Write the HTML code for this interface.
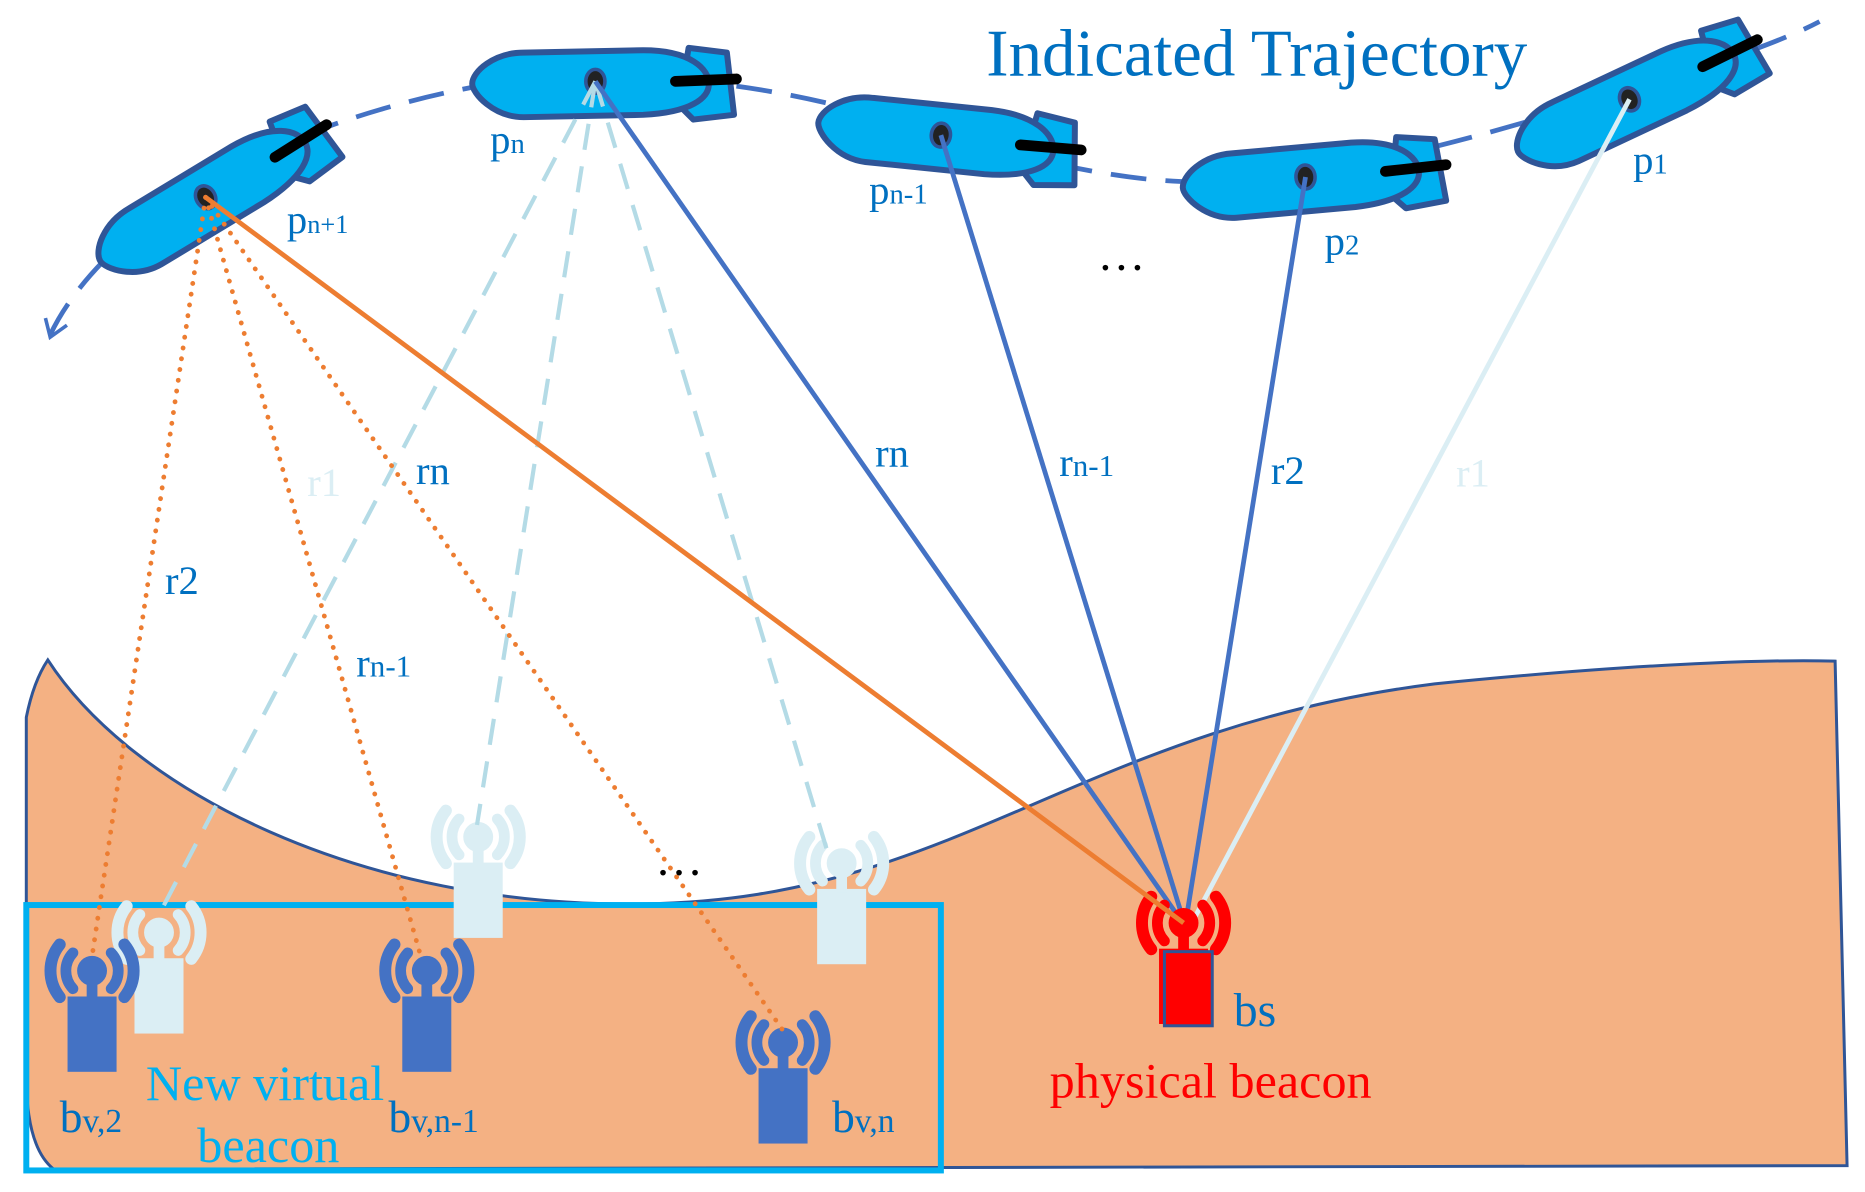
<!DOCTYPE html>
<html><head><meta charset="utf-8"><style>
html,body{margin:0;padding:0;background:#fff;}
svg{display:block;}
text{font-family:"Liberation Serif",serif;}
</style></head><body>
<svg width="1865" height="1192" viewBox="0 0 1560 997" xmlns="http://www.w3.org/2000/svg">
<defs>
<g id="auv">
  <path d="M78,-28 L110,-24 L116,28 L82,32 L70,20 Z" fill="#00b0f0" stroke="#2f5597" stroke-width="5" stroke-linejoin="round"/>
  <path d="M-60,-24 L40,-26 C80,-26 95,-10 95,2 C95,14 80,26 40,28 L-60,30 C-85,30 -103,10 -103,2 C-103,-8 -85,-24 -60,-24 Z" fill="#00b0f0" stroke="#2f5597" stroke-width="5"/>
  <line x1="67" y1="0" x2="118" y2="-2" stroke="#000" stroke-width="9" stroke-linecap="round"/>
  <ellipse cx="0" cy="0" rx="8" ry="10" fill="#222" stroke="#2f5597" stroke-width="3"/>
</g>
<g id="bcn">
  <rect x="-20" y="22" width="40" height="62"/>
  <rect x="-4" y="4" width="8" height="20"/>
  <circle cx="0" cy="0" r="12"/>
  <path d="M-16,-15 A22,22 0 0 0 -16,15 M16,-15 A22,22 0 0 1 16,15" fill="none" stroke-width="9" stroke-linecap="round"/>
  <path d="M-27,-22 A35,35 0 0 0 -27,22 M27,-22 A35,35 0 0 1 27,22" fill="none" stroke-width="10" stroke-linecap="round"/>
</g>
</defs>
<path d="M40,552 C110,660 300,760 540,756 C800,752 900,610 1200,572 C1400,552 1500,552 1535,553 L1545,975 L45,978 Q22,960 22,900 L22,600 Q28,570 40,552 Z" fill="#f4b183" stroke="#2f5597" stroke-width="2.5"/>
<rect x="22" y="757" width="765" height="222" fill="none" stroke="#00b0f0" stroke-width="5"/>
<path d="M42,280 C80,200 200,110 400,72 C560,50 680,80 780,110 C880,140 950,152 1000,152 C1100,150 1200,125 1300,95 C1400,65 1480,40 1522,18" fill="none" stroke="#4472c4" stroke-width="4" stroke-dasharray="30,16"/>
<path d="M38,266 L42,282 L56,272" fill="none" stroke="#4472c4" stroke-width="3"/>
<g fill="#dbeef4" stroke="#dbeef4"><use href="#bcn" transform="translate(133,780)"/><use href="#bcn" transform="translate(400,700)"/><use href="#bcn" transform="translate(704,722)"/></g>
<use href="#auv" transform="translate(172,165) rotate(-30)"/>
<use href="#auv" transform="translate(498,68)"/>
<use href="#auv" transform="translate(787,113) rotate(7)"/>
<use href="#auv" transform="translate(1092,148) rotate(-4)"/>
<use href="#auv" transform="translate(1363,83) rotate(-24)"/>
<g stroke="#b4dbe6" stroke-width="3.5" stroke-dasharray="22,14" fill="none">
<line x1="498" y1="68" x2="133" y2="765"/><line x1="498" y1="68" x2="399" y2="690"/><line x1="498" y1="68" x2="692" y2="712"/></g>
<g stroke="#4472c4" stroke-width="4"><line x1="498" y1="68" x2="988" y2="770"/><line x1="787" y1="113" x2="990" y2="770"/><line x1="1092" y1="148" x2="992" y2="770"/></g>
<line x1="1363" y1="83" x2="998" y2="770" stroke="#dbeef4" stroke-width="4"/>
<g fill="#4472c4" stroke="#4472c4"><use href="#bcn" transform="translate(77,812)"/><use href="#bcn" transform="translate(357,812)"/><use href="#bcn" transform="translate(655,872)"/></g>
<g fill="#ff0000" stroke="#ff0000"><use href="#bcn" transform="translate(990,772)"/></g>
<rect x="974" y="796" width="40" height="62" fill="#ff0000" stroke="#2f5597" stroke-width="2.5"/>
<line x1="172" y1="165" x2="990" y2="772" stroke="#ed7d31" stroke-width="4"/>
<g stroke="#ed7d31" stroke-width="4" stroke-dasharray="0.1,9" stroke-linecap="round" fill="none">
<line x1="172" y1="165" x2="77" y2="800"/><line x1="172" y1="165" x2="352" y2="800"/><line x1="172" y1="165" x2="655" y2="862"/></g>
<g fill="#0070c0" font-size="34">
<text x="825" y="63" font-size="56">Indicated Trajectory</text>
<text x="240" y="195">p<tspan font-size="22">n+1</tspan></text>
<text x="410" y="128">p<tspan font-size="24">n</tspan></text>
<text x="727" y="170">p<tspan font-size="24">n-1</tspan></text>
<text x="1108" y="213">p<tspan font-size="24">2</tspan></text>
<text x="1366" y="145">p<tspan font-size="24">1</tspan></text>
<text x="138" y="497">r2</text>
<text x="348" y="405">rn</text>
<text x="298" y="566">r<tspan font-size="26">n-1</tspan></text>
<text x="732" y="390">rn</text>
<text x="886" y="398">r<tspan font-size="26">n-1</tspan></text>
<text x="1063" y="405">r2</text>
<text x="1032" y="858" font-size="40">bs</text>
<text x="50" y="947" font-size="38">b<tspan font-size="28">v,2</tspan></text>
<text x="325" y="947" font-size="38">b<tspan font-size="28">v,n-1</tspan></text>
<text x="696" y="947" font-size="38">b<tspan font-size="28">v,n</tspan></text>
</g>
<g fill="#dbeef4" font-size="34"><text x="257" y="415">r1</text><text x="1218" y="407">r1</text></g>
<text x="878" y="918" fill="#ff0000" font-size="42">physical beacon</text>
<text x="122" y="920" fill="#00b0f0" font-size="42">New virtual</text>
<text x="165" y="972" fill="#00b0f0" font-size="42">beacon</text>
<text x="918" y="226" font-size="40" fill="#000">…</text>
<text x="548" y="732" font-size="40" fill="#000">…</text>
</svg>
</body></html>
